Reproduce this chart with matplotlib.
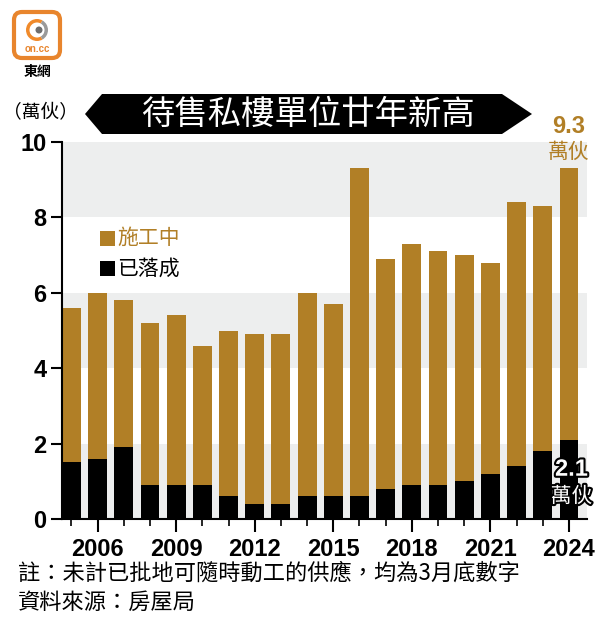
import matplotlib.pyplot as plt
import matplotlib.patheffects as pe
from matplotlib.patches import Polygon, FancyBboxPatch, Circle, Wedge, Rectangle

plt.rcParams['font.family'] = ['Noto Sans CJK TC', 'DejaVu Sans']
num_font = ['Liberation Sans', 'DejaVu Sans']

# 萬伙, 每年3月底
years = list(range(2005, 2025))
completed = [1.5, 1.6, 1.9, 0.9, 0.9, 0.9, 0.6, 0.4, 0.4, 0.6,
             0.6, 0.6, 0.8, 0.9, 0.9, 1.0, 1.2, 1.4, 1.8, 2.1]
under_construction = [4.1, 4.4, 3.9, 4.3, 4.5, 3.7, 4.4, 4.5, 4.5, 5.4,
                      5.1, 8.7, 6.1, 6.4, 6.2, 6.0, 5.6, 7.0, 6.5, 7.2]
label_years = [2006, 2009, 2012, 2015, 2018, 2021, 2024]
y_ticks = [0, 2, 4, 6, 8, 10]

gold = '#B17F26'
band_grey = '#EDEEEE'

fig = plt.figure(figsize=(6.09, 6.21), dpi=100)

# main chart
ax = fig.add_axes([62 / 609, 1 - 519 / 621, 525 / 609, 377 / 621])
for lo in (0, 4, 8):
    ax.axhspan(lo, lo + 2, color=band_grey, zorder=0, lw=0)

ax.bar(years, completed, width=0.72, color='black', zorder=2, label='已落成')
ax.bar(years, under_construction, width=0.72, bottom=completed, color=gold,
       zorder=2, label='施工中')

ax.set_xlim(2004.64, 2024.69)
ax.set_ylim(0, 10)
for s in ('top', 'right'):
    ax.spines[s].set_visible(False)
for s in ('left', 'bottom'):
    ax.spines[s].set_linewidth(1.5)

ax.set_yticks(y_ticks)
ax.set_yticklabels([str(v) for v in y_ticks], family=num_font,
                   fontweight='bold', fontsize=17)
ax.set_xticks(label_years)
ax.set_xticklabels([str(v) for v in label_years], family=num_font,
                   fontweight='bold', fontsize=17)
ax.set_xticks(years, minor=True)
ax.tick_params(axis='y', length=8, width=1.5, pad=3)
ax.tick_params(axis='x', which='major', length=9, width=1.5, pad=5)
ax.tick_params(axis='x', which='minor', length=5, width=1.2)

# legend (hand placed like the original)
for yy, col, name in ((7.45, gold, '施工中'), (6.65, 'black', '已落成')):
    ax.add_patch(Rectangle((2006.1, yy - 0.2), 0.57, 0.4, facecolor=col,
                           edgecolor='none', zorder=3))
    ax.text(2006.75, yy, name, color=col, fontsize=15, va='center')

# end labels
last_total = completed[-1] + under_construction[-1]
ax.text(years[-1], last_total + 1.12, f'{last_total:.1f}', color=gold,
        fontsize=17, fontweight='bold', family=num_font, ha='center', va='center',
        clip_on=False)
ax.text(years[-1], last_total + 0.45, '萬伙', color=gold, fontsize=15,
        ha='center', va='center', clip_on=False)
outline = [pe.withStroke(linewidth=3, foreground='black')]
ax.text(years[-1] + 0.1, completed[-1] - 0.78, f'{completed[-1]:.1f}', color='white',
        fontsize=17, fontweight='bold', family=num_font, ha='center', va='center',
        path_effects=outline, clip_on=False, zorder=5)
ax.text(years[-1] + 0.1, completed[-1] - 1.5, '萬伙', color='white', fontsize=15,
        ha='center', va='center', path_effects=outline, clip_on=False, zorder=5)

# overlay in pixel coordinates for header, logo and footer
ov = fig.add_axes([0, 0, 1, 1], zorder=-1)
ov.set_xlim(0, 609)
ov.set_ylim(621, 0)
ov.axis('off')

banner = Polygon([(85, 114), (102, 94), (502, 94), (532, 114), (502, 134), (102, 134)],
                 closed=True, facecolor='black', edgecolor='none')
ov.add_patch(banner)
ov.text(308, 114, '待售私樓單位廿年新高', color='white', fontsize=24,
        ha='center', va='center')
ov.text(40, 113, '（萬伙）', color='black', fontsize=13.5, ha='center', va='center')

# logo
ov.add_patch(FancyBboxPatch((14, 12), 46, 46, boxstyle='round,pad=0,rounding_size=8',
                            facecolor='white', edgecolor='#E8852D', linewidth=3))
ov.add_patch(Wedge((37, 30), 11, 60, 300, width=3.5, facecolor='#F08A2B', edgecolor='none'))
ov.add_patch(Wedge((37, 30), 11, -60, 60, width=3.5, facecolor='#9A9A9A', edgecolor='none'))
ov.add_patch(Circle((39, 30), 3.5, facecolor='#6E6E6E', edgecolor='none'))
ov.text(37, 49, 'on.cc', color='#E8852D', fontsize=7, fontweight='bold',
        ha='center', va='center', family=num_font)
ov.text(37, 72, '東網', color='black', fontsize=10, fontweight='bold',
        ha='center', va='center')

# footer
ov.text(18, 573, '註：未計已批地可隨時動工的供應，均為3月底數字', fontsize=16,
        ha='left', va='center')
ov.text(18, 602, '資料來源：房屋局', fontsize=16, ha='left', va='center')

fig.savefig('out.png', dpi=100)
